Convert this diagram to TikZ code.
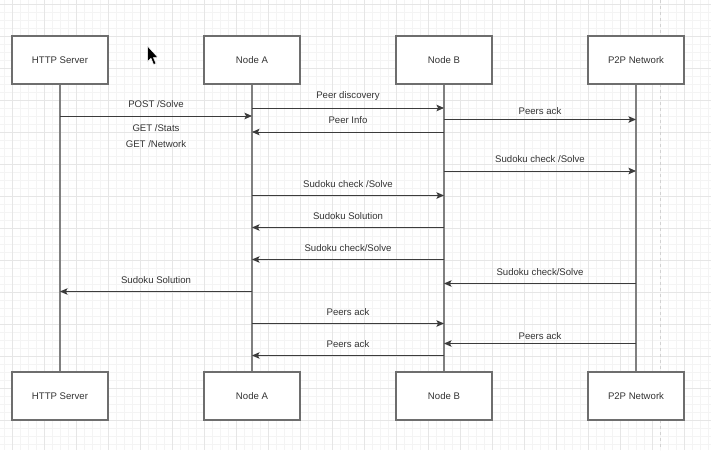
\documentclass[tikz,border=0pt]{standalone}
\usepackage{fontspec}
\setmainfont{Liberation Sans}
\usetikzlibrary{arrows.meta}
\definecolor{txt}{HTML}{333333}
\definecolor{boxline}{HTML}{6E6E6E}
\definecolor{lifeline}{HTML}{808080}
\definecolor{arr}{HTML}{3C3C3C}
\definecolor{gridminor}{HTML}{F4F4F4}
\definecolor{gridmajor}{HTML}{E6E6E6}
\tikzset{
  actor/.style={draw=boxline, line width=1.5pt, fill=white, minimum width=96pt, minimum height=48pt, inner sep=0pt, text=txt, font=\fontsize{9.6pt}{11pt}\selectfont},
  life/.style={draw=lifeline, line width=1.5pt},
  msg/.style={draw=arr, line width=1pt, -{Stealth[length=7.5pt,width=6.5pt,inset=1.5pt]}},
  lbl/.style={text=txt, font=\fontsize{9.6pt}{11pt}\selectfont, inner sep=0pt},
}
\begin{document}
\begin{tikzpicture}[x=1pt,y=-1pt]
\useasboundingbox (0,0) rectangle (711,450);
\fill[white] (0,0) rectangle (711,450);
% grid
\foreach \x in {4,12,...,711} \draw[gridminor, line width=0.6pt] (\x,0) -- (\x,450);
\foreach \y in {4,12,...,450} \draw[gridminor, line width=0.6pt] (0,\y) -- (711,\y);
\foreach \x in {12,44,...,711} \draw[gridmajor, line width=0.8pt] (\x,0) -- (\x,450);
\foreach \y in {4,36,...,450} \draw[gridmajor, line width=0.8pt] (0,\y) -- (711,\y);
% page boundary
\draw[gridmajor!80!gray, line width=1pt, dash pattern=on 3pt off 3pt] (660,0) -- (660,450);
% actors
\node[actor] (hsT) at (60,60) {HTTP Server};
\node[actor] (naT) at (252,60) {Node A};
\node[actor] (nbT) at (444,60) {Node B};
\node[actor] (p2T) at (636,60) {P2P Network};
\node[actor] (hsB) at (60,396) {HTTP Server};
\node[actor] (naB) at (252,396) {Node A};
\node[actor] (nbB) at (444,396) {Node B};
\node[actor] (p2B) at (636,396) {P2P Network};
% lifelines
\draw[life] (hsT.south) -- (hsB.north);
\draw[life] (naT.south) -- (naB.north);
\draw[life] (nbT.south) -- (nbB.north);
\draw[life] (p2T.south) -- (p2B.north);
% messages
\draw[msg] (hsT.south |- 0,116) -- node[lbl, yshift=12pt]{POST /Solve} (naT.south |- 0,116);
\node[lbl] (gst) at (156,128.5) {GET /Stats};
\node[lbl] (gnw) at (156,144.5) {GET /Network};
\draw[msg] (naT.south |- 0,108) -- node[lbl, yshift=11.5pt]{Peer discovery} (nbT.south |- 0,108);
\draw[msg] (nbT.south |- 0,132) -- node[lbl, yshift=11.5pt]{Peer Info} (naT.south |- 0,132);
\draw[msg] (nbT.south |- 0,119.5) -- node[lbl, yshift=8pt]{Peers ack} (p2T.south |- 0,119.5);
\draw[msg] (nbT.south |- 0,171) -- node[lbl, yshift=11.5pt]{Sudoku check /Solve} (p2T.south |- 0,171);
\draw[msg] (naT.south |- 0,195.5) -- node[lbl, yshift=11.5pt]{Sudoku check /Solve} (nbT.south |- 0,195.5);
\draw[msg] (nbT.south |- 0,227.5) -- node[lbl, yshift=11.5pt]{Sudoku Solution} (naT.south |- 0,227.5);
\draw[msg] (nbT.south |- 0,259.5) -- node[lbl, yshift=11.5pt]{Sudoku check/Solve} (naT.south |- 0,259.5);
\draw[msg] (p2T.south |- 0,283.5) -- node[lbl, yshift=11.5pt]{Sudoku check/Solve} (nbT.south |- 0,283.5);
\draw[msg] (naT.south |- 0,291.5) -- node[lbl, yshift=11.5pt]{Sudoku Solution} (hsT.south |- 0,291.5);
\draw[msg] (naT.south |- 0,323.5) -- node[lbl, yshift=11.5pt]{Peers ack} (nbT.south |- 0,323.5);
\draw[msg] (p2T.south |- 0,343.5) -- node[lbl, yshift=7.5pt]{Peers ack} (nbT.south |- 0,343.5);
\draw[msg] (nbT.south |- 0,355.5) -- node[lbl, yshift=11.5pt]{Peers ack} (naT.south |- 0,355.5);
% mouse cursor
\fill[black, draw=white, line width=0.5pt] (147.5,46) -- (147.5,61.5) -- (151,58.3) -- (153.6,64.5) -- (156,63.5) -- (153.4,57.6) -- (158,57.6) -- cycle;
\end{tikzpicture}
\end{document}
